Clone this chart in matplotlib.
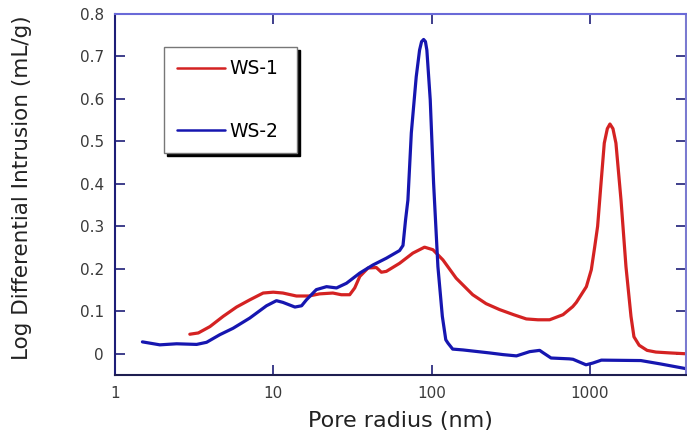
import numpy as np
import matplotlib
matplotlib.use("Agg")
import matplotlib.pyplot as plt

plt.rcParams['font.family'] = ['DejaVu Sans']

# --- datos ---
ws1_r = [2.97, 3.36, 3.98, 4.82, 5.86, 7.11, 8.63, 10.0, 11.5, 14.0, 16.8, 19.6,
         23.8, 26.9, 30.4, 32.7, 35.2, 39.7, 44.8, 48.2, 51.8, 62.8, 76.2, 90.3,
         102, 118, 143, 182, 221, 269, 330, 397, 470, 557, 677, 780, 822, 951,
         1022, 1072, 1120, 1176, 1234, 1290, 1340, 1400, 1462, 1574, 1692, 1820,
         1900, 2050, 2300, 2616, 3200, 4045]
ws1_v = [0.046, 0.049, 0.064, 0.088, 0.110, 0.127, 0.143, 0.145, 0.143, 0.136, 0.136, 0.141,
         0.143, 0.139, 0.139, 0.155, 0.182, 0.202, 0.203, 0.192, 0.194, 0.213, 0.237, 0.251,
         0.245, 0.221, 0.178, 0.139, 0.118, 0.104, 0.092, 0.082, 0.080, 0.080, 0.092, 0.111, 0.121, 0.158,
         0.198, 0.250, 0.300, 0.400, 0.496, 0.530, 0.541, 0.530, 0.496, 0.362, 0.205, 0.088,
         0.040, 0.020, 0.008, 0.004, 0.002, 0.000]

ws2_r = [1.49, 1.92, 2.45, 3.28, 3.79, 4.6, 5.57, 7.1, 9.06, 10.47, 11.5, 13.7,
         15.1, 16.2, 18.7, 21.7, 25.1, 29.0, 35.2, 42.6, 51.8, 62.8, 66.0, 68.5,
         70.9, 74.5, 80.0, 84.0, 86.5, 89.1, 91.5, 93.4, 98.1, 103, 109.7, 117,
         123, 127, 136, 158, 232, 283, 344, 417, 482, 504, 569, 743, 783, 946,
         1042, 1183, 2100, 2800, 4040]
ws2_v = [0.028, 0.021, 0.0235, 0.022, 0.027, 0.045, 0.060, 0.084, 0.113, 0.125, 0.121, 0.110,
         0.113, 0.127, 0.151, 0.158, 0.155, 0.166, 0.190, 0.209, 0.225, 0.243, 0.255, 0.315,
         0.362, 0.520, 0.652, 0.715, 0.735, 0.740, 0.735, 0.715, 0.598, 0.402, 0.205, 0.088,
         0.033, 0.025, 0.011, 0.009, 0.002, -0.002, -0.005, 0.005, 0.008, 0.003, -0.010, -0.012, -0.013, -0.026,
         -0.022, -0.015, -0.016, -0.024, -0.035]

x_ticks = [1, 10, 100, 1000]
x_labels = ['1', '10', '100', '1000']
y_ticks = [0, 0.1, 0.2, 0.3, 0.4, 0.5, 0.6, 0.7, 0.8]
y_labels = ['0', '0.1', '0.2', '0.3', '0.4', '0.5', '0.6', '0.7', '0.8']

red = '#d42222'
blue = '#1616b0'

fig = plt.figure(figsize=(6.87, 4.46), dpi=100)
ax = fig.add_axes([0.1674, 0.1592, 0.8311, 0.8094])

ax.plot(ws1_r, ws1_v, color=red, lw=2.3, label='WS-1', solid_capstyle='round')
ax.plot(ws2_r, ws2_v, color=blue, lw=2.3, label='WS-2', solid_capstyle='round')

ax.set_xscale('log')
ax.set_xlim(1, 4050)
ax.set_ylim(-0.05, 0.8)
ax.set_xticks(x_ticks)
ax.set_xticklabels(x_labels)
ax.set_yticks(y_ticks)
ax.set_yticklabels(y_labels)
ax.minorticks_off()

ax.tick_params(direction='in', length=7, width=1.2, color='#1e1e78',
               top=True, right=True, labelsize=11, labelcolor='#3a3a3a', pad=8)

ax.spines['left'].set_color('#1e1e78')
ax.spines['bottom'].set_color('#1e1e50')
ax.spines['top'].set_color('#6a6ad8')
ax.spines['right'].set_color('#7a7ad0')
for s in ax.spines.values():
    s.set_linewidth(1.5)

ax.set_xlabel('Pore radius (nm)', fontsize=16, color='#222222')
ax.set_ylabel('Log Differential Intrusion (mL/g)', fontsize=15.5, color='#222222')
ax.xaxis.set_label_coords(0.5, -0.10)
ax.yaxis.set_label_coords(-0.145, 0.519)

leg = ax.legend(loc='upper left', bbox_to_anchor=(0.086, 0.609, 0.233, 0.300),
                mode='expand', fontsize=13.5, handlelength=2.56, handletextpad=0.27,
                labelspacing=2.3, borderpad=0.67, fancybox=False, frameon=True,
                shadow={'color': 'black', 'alpha': 1.0, 'ox': 2, 'oy': -2},
                borderaxespad=0)
leg.get_frame().set_edgecolor('#777777')
leg.get_frame().set_linewidth(1.0)
for h in leg.get_lines():
    h.set_linewidth(1.8)

fig.savefig('out.png', dpi=100)
